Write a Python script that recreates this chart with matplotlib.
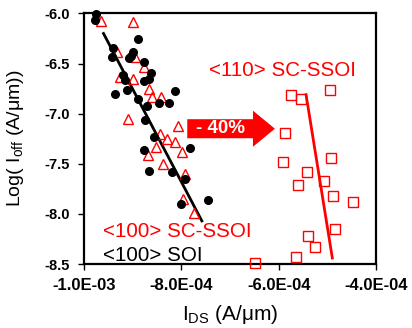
import numpy as np
import matplotlib
matplotlib.use("Agg")
import matplotlib.pyplot as plt
from matplotlib.patches import FancyArrow

plt.rcParams['font.family'] = ['Liberation Sans', 'DejaVu Sans']
plt.rcParams['mathtext.fontset'] = 'custom'
plt.rcParams['mathtext.rm'] = 'Liberation Sans'
plt.rcParams['mathtext.it'] = 'Liberation Sans:italic'

# <100> SOI (black dots)
soi_x = [-9.75e-4, -9.78e-4, -9.40e-4, -9.43e-4, -8.90e-4, -9.00e-4, -9.03e-4,
         -9.07e-4, -8.77e-4, -8.63e-4, -8.66e-4, -8.77e-4, -9.21e-4, -9.16e-4,
         -9.11e-4, -9.36e-4, -8.90e-4, -8.71e-4, -8.47e-4, -8.25e-4, -8.13e-4,
         -8.75e-4, -8.56e-4, -8.77e-4, -8.66e-4, -8.20e-4, -7.92e-4, -7.82e-4,
         -8.01e-4, -7.45e-4]
soi_y = [-6.01, -6.07, -6.34, -6.43, -6.25, -6.38, -6.42,
         -6.44, -6.48, -6.59, -6.65, -6.67, -6.61, -6.66,
         -6.76, -6.80, -6.85, -6.92, -6.89, -6.89, -6.77,
         -7.06, -7.23, -7.36, -7.57, -7.58, -7.65, -7.34,
         -7.90, -7.86]

# <100> SC-SSOI (open triangles)
ssoi100_x = [-9.65e-4, -9.00e-4, -9.32e-4, -8.95e-4, -8.77e-4, -9.26e-4, -8.99e-4,
             -8.66e-4, -8.61e-4, -8.42e-4, -9.09e-4, -8.06e-4, -8.45e-4, -8.29e-4,
             -8.13e-4, -8.52e-4, -8.68e-4, -7.99e-4, -8.37e-4, -7.92e-4, -7.97e-4,
             -7.75e-4]
ssoi100_y = [-6.08, -6.09, -6.38, -6.43, -6.53, -6.63, -6.65,
             -6.75, -6.83, -6.83, -7.05, -7.12, -7.20, -7.25,
             -7.28, -7.33, -7.41, -7.38, -7.50, -7.60, -7.85,
             -7.99]

# <110> SC-SSOI (open squares)
ssoi110_x = [-5.75e-4, -5.54e-4, -4.95e-4, -5.88e-4, -5.92e-4, -5.42e-4, -5.60e-4,
             -4.93e-4, -5.08e-4, -4.88e-4, -4.48e-4, -4.84e-4, -5.39e-4, -5.25e-4,
             -5.65e-4, -6.49e-4]
ssoi110_y = [-6.81, -6.85, -6.76, -7.19, -7.48, -7.58, -7.71,
             -7.44, -7.67, -7.82, -7.88, -8.15, -8.22, -8.33,
             -8.43, -8.49]

# trend lines (end points)
fit100_x = [-9.60e-4, -7.58e-4]
fit100_y = [-6.20, -8.07]
fit110_x = [-5.44e-4, -4.90e-4]
fit110_y = [-6.81, -8.44]

xticks = [-1.0e-3, -8.0e-4, -6.0e-4, -4.0e-4]
xtick_labels = ['-1.0E-03', '-8.0E-04', '-6.0E-04', '-4.0E-04']
yticks = [-6.0, -6.5, -7.0, -7.5, -8.0, -8.5]
ytick_labels = ['-6.0', '-6.5', '-7.0', '-7.5', '-8.0', '-8.5']

red = '#ff0000'

fig = plt.figure(figsize=(4.12, 3.28), dpi=100)
ax = fig.add_axes([0.204, 0.195, 0.709, 0.764])

ax.plot(fit100_x, fit100_y, color='black', lw=2.0, zorder=2)
ax.plot(fit110_x, fit110_y, color=red, lw=2.0, zorder=2)
ax.plot(ssoi100_x, ssoi100_y, ls='none', marker='^', ms=7, mfc='none', mec=red,
        mew=1.0, clip_on=False, zorder=3)
ax.plot(soi_x, soi_y, ls='none', marker='o', ms=5.5, color='black',
        clip_on=False, zorder=4)
ax.plot(ssoi110_x, ssoi110_y, ls='none', marker='s', ms=6.5, mfc='none', mec=red,
        mew=1.0, clip_on=False, zorder=3)

# -40% arrow
arr = FancyArrow(-7.88e-4, -7.15, 1.80e-4, 0, width=0.19, head_width=0.36,
                 head_length=0.45e-4, length_includes_head=True,
                 color=red, lw=0, zorder=5)
ax.add_patch(arr)
ax.text(-7.20e-4, -7.15, '- 40%', color='white', fontsize=13.5,
        fontweight='bold', ha='center', va='center', zorder=6)

ax.text(-7.43e-4, -6.57, '<110> SC-SSOI', color=red, fontsize=14.8,
        ha='left', va='center')
ax.text(-9.62e-4, -8.18, '<100> SC-SSOI', color=red, fontsize=14.8,
        ha='left', va='center')
ax.text(-9.62e-4, -8.41, '<100> SOI', color='black', fontsize=14.8,
        ha='left', va='center')

ax.set_xlim(-1.0e-3, -4.0e-4)
ax.set_ylim(-8.5, -6.0)
ax.set_xticks(xticks)
ax.set_xticklabels(xtick_labels, fontsize=12, fontweight='bold')
ax.set_yticks(yticks)
ax.set_yticklabels(ytick_labels, fontsize=10.5, fontweight='bold')
ax.tick_params(direction='out', length=4, width=1.0, pad=6)

for s in ax.spines.values():
    s.set_linewidth(1.6)

ax.set_ylabel('Log( I$_{\\mathrm{off}}$ (A/$\\mathrm{\\mu}$m))', fontsize=14)
ax.yaxis.set_label_coords(-0.2, 0.5)
ax.set_xlabel('I$_{\\mathrm{DS}}$ (A/$\\mathrm{\\mu}$m)', fontsize=15)
ax.xaxis.set_label_coords(0.5, -0.155)

fig.savefig('out.png', dpi=100)
